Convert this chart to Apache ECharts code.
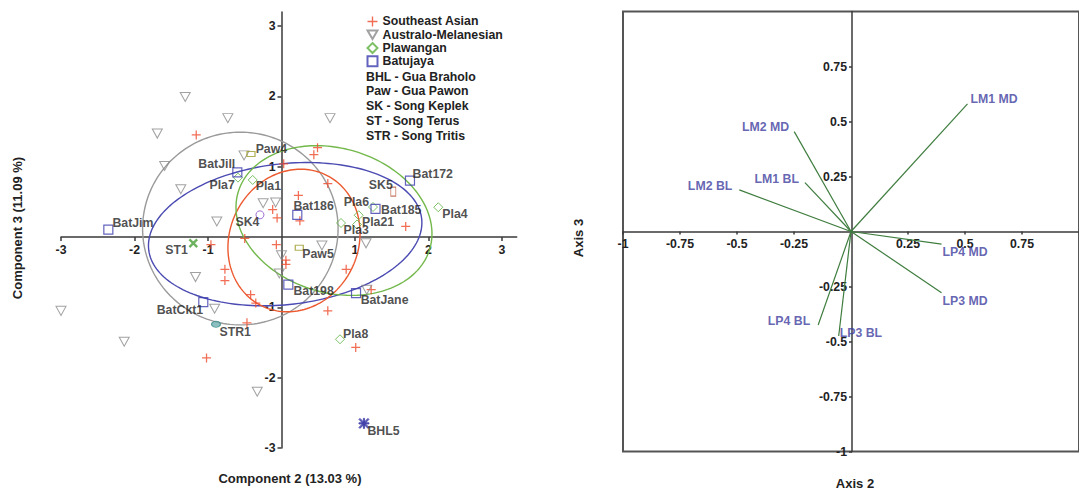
<!DOCTYPE html>
<html><head><meta charset="utf-8">
<script src="https://cdn.jsdelivr.net/npm/echarts@6/dist/echarts.min.js"></script>
<style>html,body{margin:0;padding:0;background:#fff}#c{width:1079px;height:490px}</style>
</head><body><div id="c"></div>
<script>
// ================= LEFT PANEL DATA (Component 2 vs Component 3) =================
const southeastAsian = [[-1.16,1.45],[0.49,1.27],[0.44,1.17],[0.03,1.04],[0.63,0.76],[0.23,0.59],[0.25,0.23],
  [-0.12,0.39],[-0.06,0.27],[1.69,0.15],[-0.50,-0.02],[-0.96,-0.11],[-0.07,-0.11],[0.06,-0.33],[0.06,-0.39],
  [-0.77,-0.46],[-0.77,-0.62],[-0.42,-0.82],[-0.35,-0.94],[-0.47,-1.22],[0.88,-0.46],[1.22,-0.75],
  [0.63,-1.05],[1.01,-1.57],[-1.02,-1.72]];
const australoMelanesian = [[-1.31,1.99],[-0.73,1.69],[-1.69,1.47],[0.66,1.69],[-1.59,1.01],[-0.51,1.16],
  [-1.37,0.68],[-0.88,0.22],[-0.25,0.48],[-0.08,0.49],[0.55,-0.12],[0.00,-0.26],[-0.03,-0.52],[1.15,-0.09],
  [1.16,-0.75],[-1.17,-0.57],[-0.91,-1.02],[-3.0,-1.05],[-2.14,-1.49],[-0.33,-2.20]];
const plawanganNames = ['Pla7','Pla1','Pla6','Pla3','Pla21','Pla4','Pla8',''];
const plawanganValues = [[-0.592,0.844],[-0.392,0.811],[1.050,0.309],[0.810,0.199],[1.027,0.177],
  [2.133,0.423],[0.796,-1.454],[1.245,0.426]];
const batujayaNames = ['BatJim','BatJill','Bat186','Bat172','Bat185','Bat198','BatJane','BatCkt1'];
const batujayaValues = [[-2.356,0.106],[-0.601,0.919],[0.215,0.315],[1.748,0.801],[1.279,0.400],
  [0.093,-0.678],[1.014,-0.797],[-1.064,-0.925]];
const siteNames = ['Paw4','Paw5','SK4','SK5','ST1','STR1','BHL5'];
const siteValues = [[-0.415,1.180],[0.242,-0.153],[-0.293,0.315],[1.521,0.645],[-1.200,-0.088],
  [-0.891,-1.241],[1.122,-2.650]];
// confidence ellipses: centre, semi-axes, rotation (deg)
const ellipseGroups = ['Australo-Melanesian','Batujaya','Southeast Asian','Plawangan'];
const ellipseCenters = [[-0.56,0.12],[0.05,0.04],[0.17,-0.05],[0.714,0.234]];
const ellipseRadii = [[1.33,1.37],[1.87,1.0],[0.88,1.03],[1.365,1.023]];
const ellipseAngles = [0,7,-20,-18.9];
const leftTicks = [-3,-2,-1,1,2,3];
const legendNames = ['Southeast Asian','Australo-Melanesian','Plawangan','Batujaya'];
const legendAbbrev = ['BHL - Gua Braholo','Paw - Gua Pawon','SK - Song Keplek','ST - Song Terus','STR - Song Tritis'];
const leftXName = 'Component 2 (13.03 %)';
const leftYName = 'Component 3 (11.09 %)';

// ================= RIGHT PANEL DATA (Axis 2 vs Axis 3 loadings) =================
const vectorNames = ['LM1 MD','LM2 MD','LM1 BL','LM2 BL','LP4 MD','LP3 MD','LP4 BL','LP3 BL'];
const vectorX = [0.511,-0.249,-0.202,-0.490,0.397,0.397,-0.144,-0.054];
const vectorY = [0.580,0.454,0.222,0.189,-0.057,-0.278,-0.425,-0.475];
const rightTicks = [-1,-0.75,-0.5,-0.25,0.25,0.5,0.75];
const rightXName = 'Axis 2';
const rightYName = 'Axis 3';

// ================= STYLES =================
const FONT = '"Liberation Sans", Arial, sans-serif';
const FS = 12.3;
const TXT = {fontFamily: FONT, fontWeight: 'bold', fontSize: FS, color: '#222'};
const CLEAR = 'rgba(0,0,0,0)';
const PLUS = 'path://M4.3,0H5.7V4.3H10V5.7H5.7V10H4.3V5.7H0V4.3H4.3Z';
const TRI = 'path://M0,0L10,0L5,8.7Z';
const STAR = 'path://M4.4,0H5.6V4.4H10V5.6H5.6V10H4.4V5.6H0V4.4H4.4Z M1,0L10,9L9,10L0,1Z M9,0L10,1L1,10L0,9Z';
const ellipseColors = ['#9a9a9a','#4a4ab2','#ec5a30','#72b84a'];
// label placement: [position, dx, dy]
const leftLabelStyle = {
  BatJim:['right',-1,-7], BatJill:['left',3,-8], Bat186:['right',-9,-9], Bat172:['right',-2.5,-7],
  Bat185:['right',0.5,1], Bat198:['right',0,6.7], BatJane:['right',-0.5,7.3], BatCkt1:['left',5,8.3],
  Pla7:['left',1.8,7], Pla1:['right',-2,6.4], Pla6:['right',-20,-13.7], Pla3:['right',-2.5,7.5],
  Pla21:['right',0,-2.3], Pla4:['right',-1,6.6], Pla8:['right',-2,-5.7],
  Paw4:['right',0,-5], Paw5:['right',-1.6,6.7], SK4:['left',4,7.4], SK5:['left',2.3,-6.7],
  ST1:['left',2.4,7.3], STR1:['right',-1.7,7.7], BHL5:['right',-2,7.7]
};
const siteStyle = {
  Paw4:{symbol:'rect', size:[8,5], fill:CLEAR, stroke:'#9c9c2c'},
  Paw5:{symbol:'rect', size:[8,5], fill:CLEAR, stroke:'#9c9c2c'},
  SK4:{symbol:'circle', size:8, fill:CLEAR, stroke:'#8a4cc8'},
  SK5:{symbol:'rect', size:[5,9], fill:CLEAR, stroke:'#b4553a'},
  ST1:{symbol:PLUS, size:10, fill:'#5aa84a', stroke:'#5aa84a', rotate:45},
  STR1:{symbol:'circle', size:[9,6], fill:'#6fb0b0', stroke:'#3a8a8a'},
  BHL5:{symbol:STAR, size:10, fill:'#3c3ca8', stroke:'#3c3ca8'}
};
const vecLabelStyle = {
  'LM1 MD':['right',3,-5], 'LM2 MD':['left',5,-5], 'LM1 BL':['left',6,-4], 'LM2 BL':['left',7,-4],
  'LP4 MD':['right',1,8], 'LP3 MD':['right',1,8], 'LP4 BL':['left',8,-4], 'LP3 BL':['right',1,-3]
};

function withLabel(name, value) {
  const item = {name: name, value: value};
  const s = leftLabelStyle[name];
  if (s) item.label = {show: true, position: s[0], distance: 0, offset: [s[1], s[2]], formatter: name, ...TXT};
  return item;
}

const ellipseData = ellipseGroups.map((g, i) => [ellipseCenters[i][0], ellipseCenters[i][1],
  ellipseRadii[i][0], ellipseRadii[i][1], ellipseAngles[i], i]);

function renderEllipse(params, api) {
  const cx = api.value(0), cy = api.value(1), a = api.value(2), b = api.value(3);
  const t = api.value(4) * Math.PI / 180, idx = api.value(5);
  const pts = [];
  for (let k = 0; k <= 180; k++) {
    const u = k / 180 * Math.PI * 2;
    const ex = a * Math.cos(u), ey = b * Math.sin(u);
    pts.push(api.coord([cx + ex * Math.cos(t) - ey * Math.sin(t), cy + ex * Math.sin(t) + ey * Math.cos(t)]));
  }
  return {type: 'polyline', shape: {points: pts}, style: {stroke: ellipseColors[idx], fill: null, lineWidth: 1.4}};
}

function renderVector(params, api) {
  const p0 = api.coord([0, 0]);
  const p1 = api.coord([api.value(0), api.value(1)]);
  return {type: 'line', shape: {x1: p0[0], y1: p0[1], x2: p1[0], y2: p1[1]},
    style: {stroke: '#3f7d3f', lineWidth: 1.2}};
}

// grid geometry
const G0 = {left: 61, top: 11.9, width: 455.7, height: 436.1};
const G1 = {left: 623, top: 11.5, width: 458, height: 440};
// place each axis on the other axis's zero via offset
const L_XMIN = -3, L_XMAX = 3.2, L_YMIN = -3, L_YMAX = 3.2;
const lxOff = -(G0.height * (0 - L_YMIN) / (L_YMAX - L_YMIN));
const lyOff = -(G0.width * (0 - L_XMIN) / (L_XMAX - L_XMIN));
const rxOff = -(G1.height / 2);
const ryOff = -(G1.width / 2);

const axisLineStyle = {color: '#3a3a3a', width: 1.5};
const lblStyle = {fontFamily: FONT, fontWeight: 'bold', fontSize: FS, color: '#222'};

const chart = echarts.init(document.getElementById('c'), null, {renderer: 'svg'});
chart.setOption({
  animation: false,
  backgroundColor: '#fff',
  grid: [
    G0,
    {...G1, show: true, borderColor: '#555', borderWidth: 2, backgroundColor: 'transparent'}
  ],
  xAxis: [
    {type: 'value', gridIndex: 0, min: L_XMIN, max: L_XMAX, interval: 1, position: 'bottom', offset: lxOff,
      axisLine: {onZero: false, lineStyle: axisLineStyle},
      axisTick: {customValues: leftTicks, length: 4, lineStyle: axisLineStyle},
      axisLabel: {customValues: leftTicks, margin: 7, ...lblStyle},
      splitLine: {show: false}},
    {type: 'value', gridIndex: 1, min: -1, max: 1, interval: 0.25, position: 'bottom', offset: rxOff,
      axisLine: {onZero: false, lineStyle: axisLineStyle},
      axisTick: {customValues: rightTicks, length: 3, lineStyle: axisLineStyle},
      axisLabel: {customValues: rightTicks, margin: 6, ...lblStyle, formatter: v => String(v)},
      splitLine: {show: false}}
  ],
  yAxis: [
    {type: 'value', gridIndex: 0, min: L_YMIN, max: L_YMAX, interval: 1, position: 'left', offset: lyOff,
      axisLine: {onZero: false, lineStyle: axisLineStyle},
      axisTick: {customValues: leftTicks, length: 4, lineStyle: axisLineStyle},
      axisLabel: {customValues: leftTicks, margin: 6, ...lblStyle},
      splitLine: {show: false}},
    {type: 'value', gridIndex: 1, min: -1, max: 1, interval: 0.25, position: 'left', offset: ryOff,
      axisLine: {onZero: false, lineStyle: axisLineStyle},
      axisTick: {customValues: rightTicks, length: 3, lineStyle: axisLineStyle},
      axisLabel: {customValues: rightTicks, margin: 5, ...lblStyle, formatter: v => String(v)},
      splitLine: {show: false}}
  ],
  legend: {
    data: legendNames, orient: 'vertical', left: 366.5, top: 15.2, padding: 0,
    itemWidth: 10, itemHeight: 10, itemGap: 0.8, selectedMode: false,
    textStyle: {...lblStyle, lineHeight: 12.5}
  },
  graphic: [
    ...legendAbbrev.map((t, i) => ({type: 'text', x: 366, y: 76.7 + i * 14.75,
      style: {text: t, fontFamily: FONT, fontWeight: 'bold', fontSize: FS, fill: '#222', verticalAlign: 'middle', align: 'left'}})),
    {type: 'text', x: 17, y: 228, rotation: Math.PI / 2,
      style: {text: leftYName, fontFamily: FONT, fontWeight: 'bold', fontSize: 13, fill: '#222', align: 'center', verticalAlign: 'middle'}},
    {type: 'text', x: 290, y: 478,
      style: {text: leftXName, fontFamily: FONT, fontWeight: 'bold', fontSize: 13, fill: '#222', align: 'center', verticalAlign: 'middle'}},
    {type: 'text', x: 578, y: 238, rotation: Math.PI / 2,
      style: {text: rightYName, fontFamily: FONT, fontWeight: 'bold', fontSize: 13, fill: '#222', align: 'center', verticalAlign: 'middle'}},
    {type: 'text', x: 855, y: 483,
      style: {text: rightXName, fontFamily: FONT, fontWeight: 'bold', fontSize: 13, fill: '#222', align: 'center', verticalAlign: 'middle'}}
  ],
  series: [
    {type: 'custom', name: 'ellipses', xAxisIndex: 0, yAxisIndex: 0, renderItem: renderEllipse,
      data: ellipseData, silent: true, z: 1, encode: {x: 0, y: 1}},
    {type: 'scatter', name: 'Southeast Asian', xAxisIndex: 0, yAxisIndex: 0, symbol: PLUS, symbolSize: 9,
      itemStyle: {color: '#ee4a2a'}, data: southeastAsian, z: 3, silent: true},
    {type: 'scatter', name: 'Australo-Melanesian', xAxisIndex: 0, yAxisIndex: 0, symbol: TRI, symbolSize: [10, 9],
      itemStyle: {color: CLEAR, borderColor: '#8a8a8a', borderWidth: 1}, data: australoMelanesian, z: 3, silent: true},
    {type: 'scatter', name: 'Plawangan', xAxisIndex: 0, yAxisIndex: 0, symbol: 'diamond', symbolSize: 9,
      itemStyle: {color: CLEAR, borderColor: '#5cb040', borderWidth: 1},
      data: plawanganNames.map((n, i) => withLabel(n, plawanganValues[i])), z: 3, silent: true},
    {type: 'scatter', name: 'Batujaya', xAxisIndex: 0, yAxisIndex: 0, symbol: 'rect', symbolSize: 9,
      itemStyle: {color: CLEAR, borderColor: '#3c3cae', borderWidth: 1.2},
      data: batujayaNames.map((n, i) => withLabel(n, batujayaValues[i])), z: 3, silent: true},
    {type: 'scatter', name: 'sites', xAxisIndex: 0, yAxisIndex: 0, z: 4, silent: true,
      data: siteNames.map((n, i) => {
        const s = siteStyle[n];
        const item = withLabel(n, siteValues[i]);
        item.symbol = s.symbol; item.symbolSize = s.size; item.symbolRotate = s.rotate || 0;
        item.itemStyle = {color: s.fill, borderColor: s.stroke, borderWidth: 1};
        return item;
      })},
    {type: 'custom', name: 'vectors', xAxisIndex: 1, yAxisIndex: 1, renderItem: renderVector,
      data: vectorNames.map((n, i) => [vectorX[i], vectorY[i]]), silent: true, z: 2, encode: {x: 0, y: 1}},
    {type: 'scatter', name: 'vectorLabels', xAxisIndex: 1, yAxisIndex: 1, symbolSize: 0, silent: true, z: 3,
      data: vectorNames.map((n, i) => {
        const s = vecLabelStyle[n];
        return {name: n, value: [vectorX[i], vectorY[i]],
          label: {show: true, position: s[0], distance: s[1], offset: [0, s[2]], formatter: n,
            fontFamily: FONT, fontWeight: 'bold', fontSize: FS, color: '#3d3d9e'}};
      })}
  ]
});
</script>
</body></html>
